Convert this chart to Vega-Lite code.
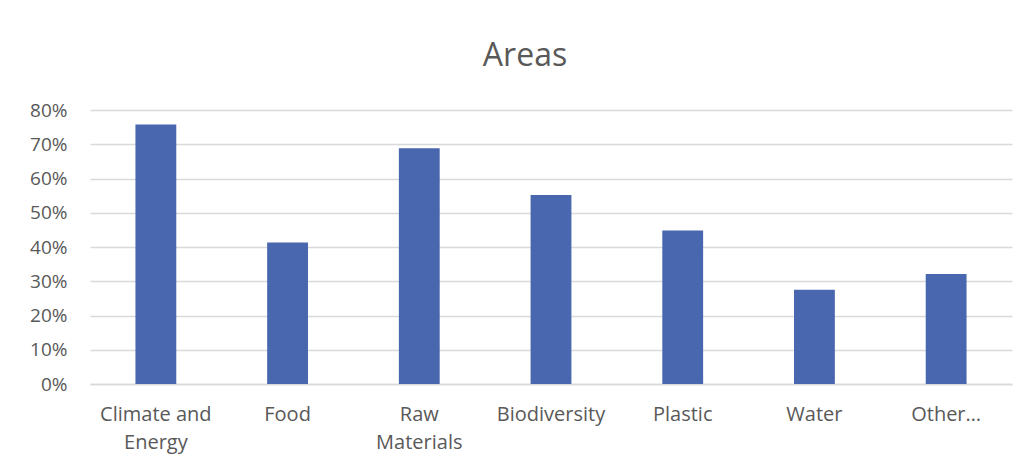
{
  "$schema": "https://vega.github.io/schema/vega-lite/v6.json",
  "autosize": {"type": "none"},
  "padding": {"left": 90, "top": 110, "right": 14, "bottom": 83},
  "width": 922,
  "height": 274,
  "background": "white",
  "title": {
    "text": "Areas",
    "fontSize": 32,
    "font": "Open Sans",
    "fontWeight": "normal",
    "color": "#595959",
    "anchor": "middle",
    "dx": -26,
    "offset": 28
  },
  "data": {
    "values": [
      {"area": "Climate and Energy", "share": 0.758},
      {"area": "Food", "share": 0.413},
      {"area": "Raw Materials", "share": 0.688},
      {"area": "Biodiversity", "share": 0.552},
      {"area": "Plastic", "share": 0.448},
      {"area": "Water", "share": 0.275},
      {"area": "Other…", "share": 0.321}
    ]
  },
  "mark": {"type": "bar", "color": "#4967AE"},
  "encoding": {
    "x": {
      "field": "area",
      "type": "nominal",
      "sort": null,
      "scale": {"paddingInner": 0.69, "paddingOuter": 0.345},
      "axis": {
        "title": null,
        "labelAngle": 0,
        "labelFont": "Open Sans",
        "labelFontSize": 20,
        "labelColor": "#595959",
        "labelPadding": 30,
        "labelLineHeight": 28,
        "labelBaseline": "middle",
        "labelExpr": "datum.label == 'Climate and Energy' ? ['Climate and', 'Energy'] : datum.label == 'Raw Materials' ? ['Raw', 'Materials'] : datum.label",
        "ticks": false,
        "domainColor": "#d9d9d9",
        "domainWidth": 1.5,
        "grid": false
      }
    },
    "y": {
      "field": "share",
      "type": "quantitative",
      "scale": {"domain": [0, 0.8], "nice": false},
      "axis": {
        "title": null,
        "format": ".0%",
        "values": [0, 0.1, 0.2, 0.3, 0.4, 0.5, 0.6, 0.7, 0.8],
        "labelFont": "Open Sans",
        "labelFontSize": 19,
        "labelColor": "#595959",
        "labelPadding": 23,
        "ticks": false,
        "domain": false,
        "gridColor": "#d9d9d9",
        "gridWidth": 1.5
      }
    }
  },
  "config": {"view": {"stroke": null}}
}
